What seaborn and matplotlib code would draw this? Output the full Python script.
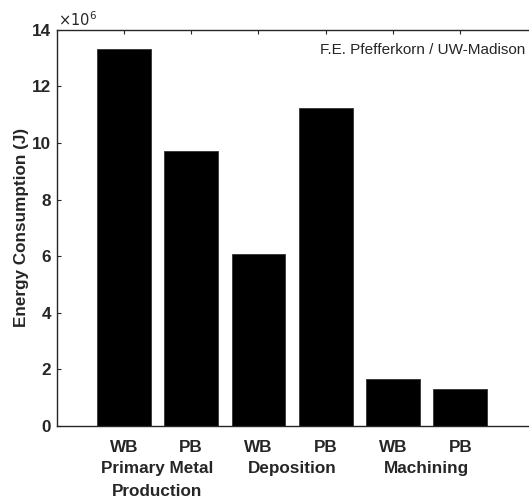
import matplotlib
matplotlib.use("Agg")
import matplotlib.pyplot as plt
from matplotlib.ticker import FuncFormatter
import seaborn as sns
import pandas as pd

# --- DATA ---
bar_labels = ["WB", "PB", "WB", "PB", "WB", "PB"]
energy_j = [13.33e6, 9.70e6, 6.08e6, 11.23e6, 1.67e6, 1.31e6]
group_names = ["Primary Metal\nProduction", "Deposition", "Machining"]
y_ticks = [0, 2e6, 4e6, 6e6, 8e6, 10e6, 12e6, 14e6]

TXT = "#262626"

sns.set_theme(style="white")
plt.rcParams["font.family"] = ["Liberation Sans", "DejaVu Sans"]

df = pd.DataFrame({"pos": range(len(energy_j)), "energy": energy_j})

fig = plt.figure(figsize=(5.29, 4.98), dpi=100)
ax = fig.add_axes([0.107, 0.145, 0.893, 0.795])

sns.barplot(data=df, x="pos", y="energy", color="black", edgecolor="#333333",
            linewidth=0.6, width=0.8, saturation=1, ax=ax)

ax.set_xlim(-1, 6.02)
ax.set_ylim(0, 14e6)
ax.set_yticks(y_ticks)
ax.yaxis.set_major_formatter(FuncFormatter(lambda v, p: f"{v / 1e6:g}"))
ax.set_xticks(range(len(bar_labels)))
ax.set_xticklabels(bar_labels)

for lab in ax.get_xticklabels() + ax.get_yticklabels():
    lab.set_fontweight("bold")
    lab.set_fontsize(12.3)
    lab.set_color(TXT)

ax.tick_params(axis="both", direction="in", length=3, width=0.8, color=TXT,
               top=True, bottom=True, left=True)
ax.tick_params(axis="y", pad=4)
ax.tick_params(axis="x", pad=10)

for side in ["left", "bottom", "top"]:
    ax.spines[side].set_visible(True)
    ax.spines[side].set_color(TXT)
    ax.spines[side].set_linewidth(1.0)
ax.spines["right"].set_visible(False)

ax.set_xlabel("")
ax.set_ylabel("Energy Consumption (J)", fontsize=12.3, fontweight="bold",
              color=TXT, labelpad=2)

# group labels under the WB/PB pairs
for i, name in enumerate(group_names):
    ax.text(2 * i + 0.5, -0.09, name, transform=ax.get_xaxis_transform(),
            ha="center", va="top", fontsize=12.3, fontweight="bold", color=TXT,
            linespacing=1.6)

ax.text(0.003, 1.003, r"$\times10^6$", transform=ax.transAxes, ha="left",
        va="bottom", fontsize=10.5, color=TXT)
ax.text(0.993, 0.968, "F.E. Pfefferkorn / UW-Madison", transform=ax.transAxes,
        ha="right", va="top", fontsize=11, color=TXT)

fig.savefig("out.png", dpi=100)
